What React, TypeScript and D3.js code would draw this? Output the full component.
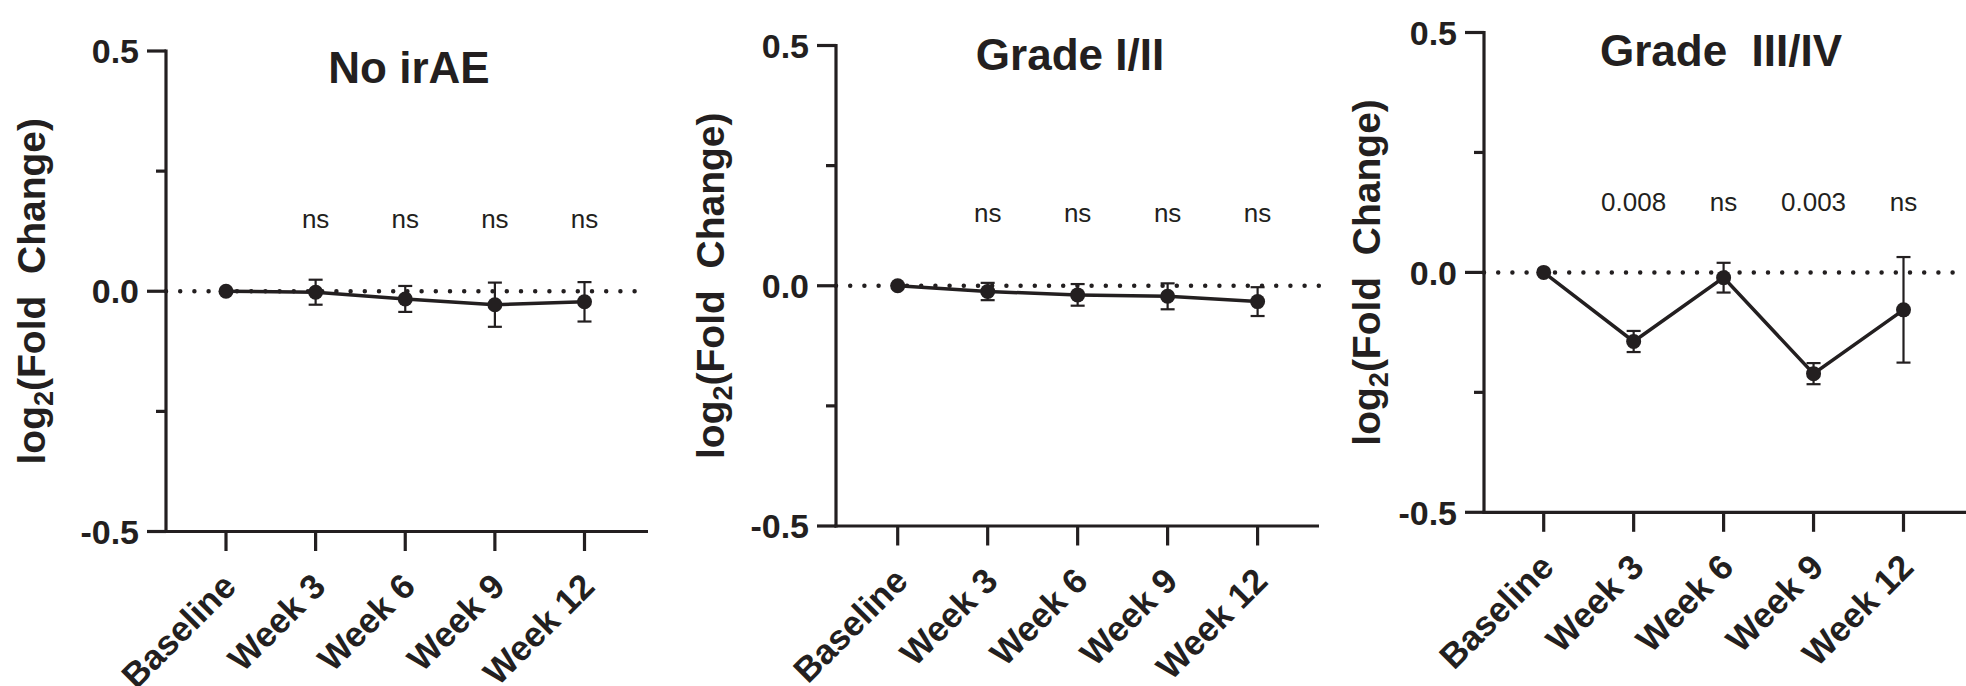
import React from "react";
import * as d3 from "d3";

const timepoints = ["Baseline", "Week 3", "Week 6", "Week 9", "Week 12"];

const noIraeMean = [0, -0.002, -0.016, -0.028, -0.022];
const noIraeSem = [0, 0.026, 0.027, 0.046, 0.041];
const noIraeP = ["", "ns", "ns", "ns", "ns"];

const grade12Mean = [0, -0.012, -0.019, -0.022, -0.033];
const grade12Sem = [0, 0.018, 0.0225, 0.027, 0.03];
const grade12P = ["", "ns", "ns", "ns", "ns"];

const grade34Mean = [0, -0.144, -0.011, -0.211, -0.078];
const grade34Sem = [0, 0.022, 0.031, 0.022, 0.11];
const grade34P = ["", "0.008", "ns", "0.003", "ns"];

const titles = ["No irAE", "Grade I/II", "Grade  III/IV"];
const yMajorTicks = [-0.5, 0, 0.5];
const yMinorTicks = [-0.25, 0.25];
const yDomain: [number, number] = [-0.5, 0.5];

// layout (pixels)
const layouts = [
  { axisX: 166, yTop: 51, yBottom: 531.5, xFirst: 226, xLast: 584.5, axisEnd: 648, titleX: 409, titleY: 83, pY: 228, labelX: 45 },
  { axisX: 836, yTop: 45.5, yBottom: 526, xFirst: 897.7, xLast: 1257.6, axisEnd: 1319, titleX: 1070, titleY: 70, pY: 221.5, labelX: 724 },
  { axisX: 1484, yTop: 32.5, yBottom: 512.3, xFirst: 1543.7, xLast: 1903.5, axisEnd: 1966, titleX: 1721, titleY: 66, pY: 211, labelX: 1380 },
];

const panels = [
  { title: titles[0], mean: noIraeMean, sem: noIraeSem, p: noIraeP, L: layouts[0] },
  { title: titles[1], mean: grade12Mean, sem: grade12Sem, p: grade12P, L: layouts[1] },
  { title: titles[2], mean: grade34Mean, sem: grade34Sem, p: grade34P, L: layouts[2] },
];

const INK = "#231f20";
const FONT = "'Liberation Sans', Arial, Helvetica, sans-serif";
const fmt = (v: number) => d3.format(".1f")(v).replace("\u2212", "-");

function Panel({ panel }: { panel: (typeof panels)[number] }) {
  const L = panel.L;
  const x = d3.scalePoint<string>().domain(timepoints).range([L.xFirst, L.xLast]).padding(0);
  const y = d3.scaleLinear().domain(yDomain).range([L.yBottom, L.yTop]);
  const pts = timepoints.map((t, i) => ({ t, m: panel.mean[i], s: panel.sem[i], p: panel.p[i] }));
  const line = d3
    .line<{ t: string; m: number }>()
    .x((d) => x(d.t) as number)
    .y((d) => y(d.m));
  const yMid = (y(yDomain[0]) + y(yDomain[1])) / 2;
  const capHalf = 7;
  return (
    <g>
      {/* zero dotted reference line */}
      <line
        x1={L.axisX}
        x2={L.axisEnd}
        y1={y(0)}
        y2={y(0)}
        stroke={INK}
        strokeWidth={4.5}
        strokeLinecap="round"
        strokeDasharray="0 14.2"
      />
      {/* error bars */}
      {pts.map((d) =>
        d.s > 0 ? (
          <g key={"e" + d.t} stroke={INK} strokeWidth={2.2}>
            <line x1={x(d.t)} x2={x(d.t)} y1={y(d.m + d.s)} y2={y(d.m - d.s)} />
            <line x1={(x(d.t) as number) - capHalf} x2={(x(d.t) as number) + capHalf} y1={y(d.m + d.s)} y2={y(d.m + d.s)} />
            <line x1={(x(d.t) as number) - capHalf} x2={(x(d.t) as number) + capHalf} y1={y(d.m - d.s)} y2={y(d.m - d.s)} />
          </g>
        ) : null
      )}
      <path d={line(pts) || ""} fill="none" stroke={INK} strokeWidth={3.5} strokeLinejoin="miter" />
      {pts.map((d) => (
        <circle key={"c" + d.t} cx={x(d.t)} cy={y(d.m)} r={7.5} fill={INK} />
      ))}
      {/* axes */}
      <line x1={L.axisX} x2={L.axisX} y1={L.yTop - 1.5} y2={L.yBottom + 1.5} stroke={INK} strokeWidth={3.2} />
      <line x1={L.axisX - 1.5} x2={L.axisEnd} y1={L.yBottom} y2={L.yBottom} stroke={INK} strokeWidth={3.2} />
      {yMajorTicks.map((v) => (
        <g key={"ym" + v}>
          <line x1={L.axisX - 19} x2={L.axisX} y1={y(v)} y2={y(v)} stroke={INK} strokeWidth={3.2} />
          <text
            x={L.axisX - 27}
            y={y(v)}
            dy="0.36em"
            textAnchor="end"
            fontFamily={FONT}
            fontWeight="bold"
            fontSize={34}
            fill={INK}
          >
            {fmt(v)}
          </text>
        </g>
      ))}
      {yMinorTicks.map((v) => (
        <line key={"yn" + v} x1={L.axisX - 10} x2={L.axisX} y1={y(v)} y2={y(v)} stroke={INK} strokeWidth={3.2} />
      ))}
      {timepoints.map((t) => (
        <g key={"xt" + t}>
          <line x1={x(t)} x2={x(t)} y1={L.yBottom} y2={L.yBottom + 19.5} stroke={INK} strokeWidth={3.2} />
          <text
            transform={`translate(${(x(t) as number) + 12},${L.yBottom + 57}) rotate(-45)`}
            textAnchor="end"
            fontFamily={FONT}
            fontWeight="bold"
            fontSize={35}
            fill={INK}
          >
            {t}
          </text>
        </g>
      ))}
      {/* p labels */}
      {pts.map((d) =>
        d.p ? (
          <text key={"p" + d.t} x={x(d.t)} y={L.pY} textAnchor="middle" fontFamily={FONT} fontSize={26} fill={INK}>
            {d.p}
          </text>
        ) : null
      )}
      {/* title */}
      <text
        x={L.titleX}
        y={L.titleY}
        textAnchor="middle"
        fontFamily={FONT}
        fontWeight="bold"
        fontSize={44}
        fill={INK}
        style={{ whiteSpace: "pre" }}
      >
        {panel.title}
      </text>
      {/* y label */}
      <text
        transform={`translate(${L.labelX},${yMid}) rotate(-90)`}
        textAnchor="middle"
        fontFamily={FONT}
        fontWeight="bold"
        fontSize={39}
        fill={INK}
        style={{ whiteSpace: "pre" }}
      >
        log
        <tspan fontSize={27} dy={8}>
          2
        </tspan>
        <tspan dy={-8}>(Fold  Change)</tspan>
      </text>
    </g>
  );
}

export default function App() {
  return (
    <div style={{ position: "absolute", left: 0, top: 0, width: 1966, height: 686, background: "#fff" }}>
      <svg width={1966} height={686} style={{ display: "block" }}>
        <rect width={1966} height={686} fill="#fff" />
        {panels.map((p, i) => (
          <Panel key={i} panel={p} />
        ))}
      </svg>
    </div>
  );
}
